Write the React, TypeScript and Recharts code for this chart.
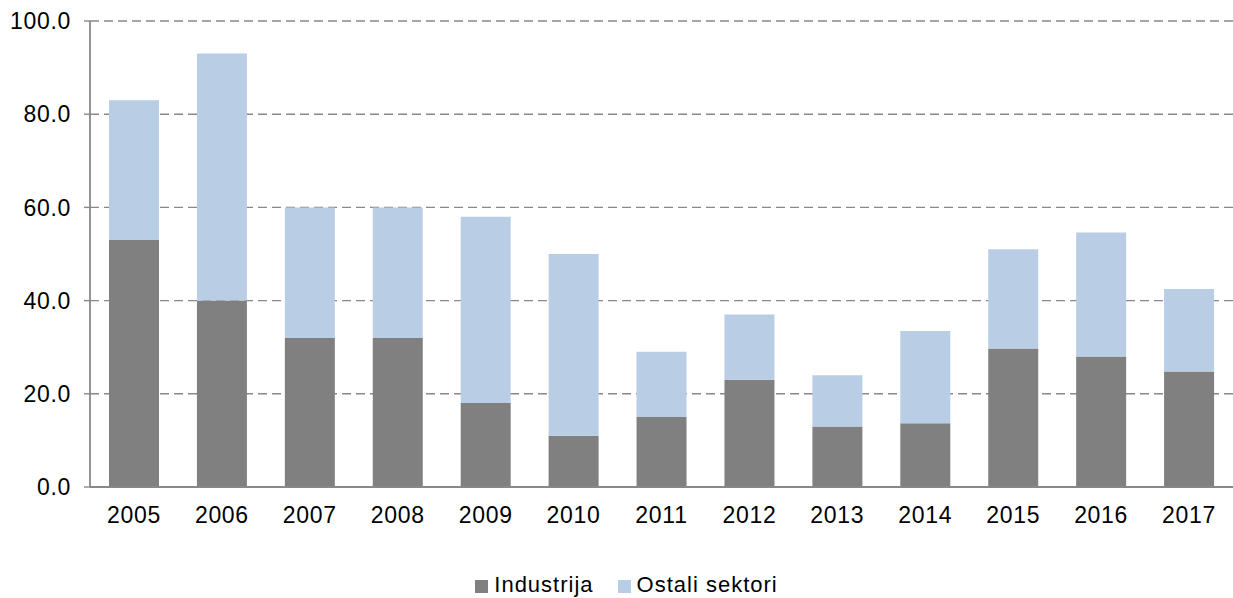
import React from "react";
import { BarChart, Bar, XAxis, YAxis, CartesianGrid, Legend } from "recharts";

const years = ["2005", "2006", "2007", "2008", "2009", "2010", "2011", "2012", "2013", "2014", "2015", "2016", "2017"];
const industrija = [53, 40, 32, 32, 18, 11, 15, 23, 13, 13.7, 29.7, 28, 24.8];
const ukupno = [83, 93, 60, 60, 58, 50, 29, 37, 24, 33.5, 51, 54.6, 42.5];
const ostali = ukupno.map((t, i) => +(t - industrija[i]).toFixed(1));
const yTicks = [0, 20, 40, 60, 80, 100];

const data = years.map((y, i) => ({ year: y, Industrija: industrija[i], "Ostali sektori": ostali[i] }));

const FONT = "'Liberation Sans', Arial, sans-serif";

const renderLegend = (props: any) => {
  const { payload } = props;
  return (
    <div style={{ display: "flex", justifyContent: "center", alignItems: "center", fontFamily: FONT, fontSize: 22, letterSpacing: 1, color: "#000", marginLeft: 20, marginTop: 4 }}>
      {(payload || []).map((p: any, i: number) => (
        <div key={i} style={{ display: "flex", alignItems: "center", marginRight: i === 0 ? 24 : 0 }}>
          <span style={{ display: "inline-block", width: 13, height: 13, background: p.color, marginRight: 6, marginTop: 3 }} />
          <span>{p.value}</span>
        </div>
      ))}
    </div>
  );
};

export default function App() {
  return (
    <div style={{ position: "absolute", left: 0, top: 0, fontFamily: FONT }}>
      <BarChart width={1233} height={598} data={data} margin={{ top: 21, right: 0, left: 0, bottom: 0 }} barSize={50}>
        <CartesianGrid vertical={false} stroke="#888" strokeDasharray="9 5" strokeWidth={1.4} />
        <XAxis
          dataKey="year"
          height={81}
          tickLine={false}
          tickSize={0}
          tickMargin={20}
          axisLine={{ stroke: "#888", strokeWidth: 1.8 }}
          tick={{ fill: "#000", fontSize: 23, fontFamily: FONT, letterSpacing: 0.7 }}
        />
        <YAxis
          width={90}
          domain={[0, 100]}
          ticks={yTicks}
          interval={0}
          tickFormatter={(v: number) => v.toFixed(1)}
          tickSize={6}
          tickMargin={13}
          tickLine={{ stroke: "#888", strokeWidth: 1.4 }}
          axisLine={{ stroke: "#888", strokeWidth: 1.8 }}
          tick={{ fill: "#000", fontSize: 23, fontFamily: FONT, letterSpacing: 0.7 }}
        />
        <Legend verticalAlign="bottom" height={30} content={renderLegend} />
        <Bar dataKey="Industrija" stackId="a" fill="#808080" isAnimationActive={false} />
        <Bar dataKey="Ostali sektori" stackId="a" fill="#B9CDE5" isAnimationActive={false} />
      </BarChart>
    </div>
  );
}
